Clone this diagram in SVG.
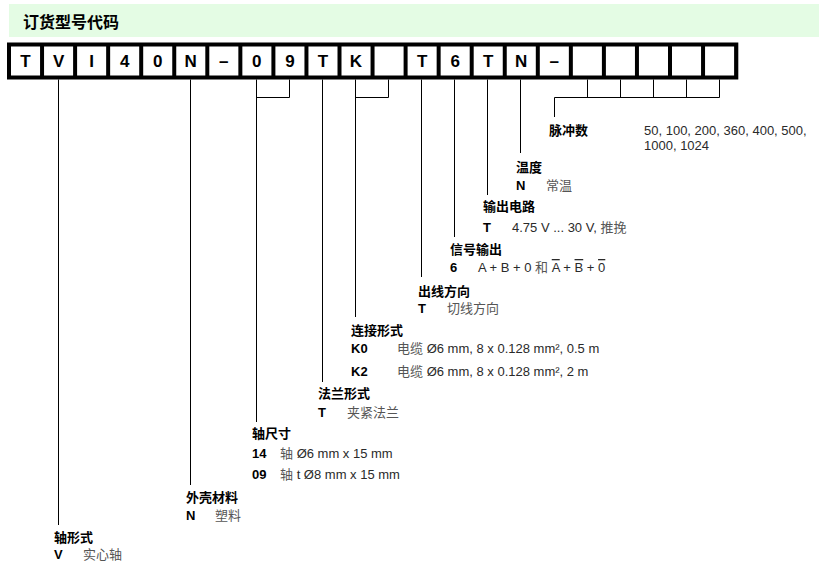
<svg xmlns="http://www.w3.org/2000/svg" width="823" height="567" viewBox="0 0 823 567">
<style>
text { font-family: "Liberation Sans", "Noto Sans CJK SC", sans-serif; }
.hd { font-size: 16px; font-weight: bold; fill: #000; }
.cell { fill: #fff; }
.ch { font-size: 17px; font-weight: bold; fill: #000; text-anchor: middle; }
.lbl { font-size: 13px; font-weight: bold; fill: #000; }
.code { font-size: 13px; font-weight: bold; fill: #000; }
.desc { font-size: 13px; fill: #2a2a2a; }
.zh { fill: #555; }
.cn line, .cn polyline { stroke: #000; stroke-width: 1; fill: none; }
</style>
<rect x="0" y="0" width="823" height="567" fill="#fff"/>
<g id="header">
  <rect x="9" y="4" width="810" height="33" fill="#e4fce4"/>
  <text class="hd" x="23" y="27.5">订货型号代码</text>
</g>
<g id="code-row">
  <rect x="7" y="42.5" width="731.3" height="37" fill="#000"/>
  <rect class="cell" x="11" y="46.5" width="29.05" height="29"/>
  <rect class="cell" x="44.05" y="46.5" width="29.05" height="29"/>
  <rect class="cell" x="77.1" y="46.5" width="29.05" height="29"/>
  <rect class="cell" x="110.15" y="46.5" width="29.05" height="29"/>
  <rect class="cell" x="143.2" y="46.5" width="29.05" height="29"/>
  <rect class="cell" x="176.25" y="46.5" width="29.05" height="29"/>
  <rect class="cell" x="209.3" y="46.5" width="29.05" height="29"/>
  <rect class="cell" x="242.35" y="46.5" width="29.05" height="29"/>
  <rect class="cell" x="275.4" y="46.5" width="29.05" height="29"/>
  <rect class="cell" x="308.45" y="46.5" width="29.05" height="29"/>
  <rect class="cell" x="341.5" y="46.5" width="29.05" height="29"/>
  <rect class="cell" x="374.55" y="46.5" width="29.05" height="29"/>
  <rect class="cell" x="407.6" y="46.5" width="29.05" height="29"/>
  <rect class="cell" x="440.65" y="46.5" width="29.05" height="29"/>
  <rect class="cell" x="473.7" y="46.5" width="29.05" height="29"/>
  <rect class="cell" x="506.75" y="46.5" width="29.05" height="29"/>
  <rect class="cell" x="539.8" y="46.5" width="29.05" height="29"/>
  <rect class="cell" x="572.85" y="46.5" width="29.05" height="29"/>
  <rect class="cell" x="605.9" y="46.5" width="29.05" height="29"/>
  <rect class="cell" x="638.95" y="46.5" width="29.05" height="29"/>
  <rect class="cell" x="672" y="46.5" width="29.05" height="29"/>
  <rect class="cell" x="705.05" y="46.5" width="29.05" height="29"/>
  <text class="ch" x="25.5" y="67">T</text>
  <text class="ch" x="58.55" y="67">V</text>
  <text class="ch" x="91.6" y="67">I</text>
  <text class="ch" x="124.65" y="67">4</text>
  <text class="ch" x="157.7" y="67">0</text>
  <text class="ch" x="190.75" y="67">N</text>
  <text class="ch" x="223.8" y="67">–</text>
  <text class="ch" x="256.85" y="67">0</text>
  <text class="ch" x="289.9" y="67">9</text>
  <text class="ch" x="322.95" y="67">T</text>
  <text class="ch" x="356" y="67">K</text>
  <text class="ch" x="422.1" y="67">T</text>
  <text class="ch" x="455.15" y="67">6</text>
  <text class="ch" x="488.2" y="67">T</text>
  <text class="ch" x="521.25" y="67">N</text>
  <text class="ch" x="554.3" y="67">–</text>
</g>
<g id="connectors" class="cn">
  <line x1="58.5" y1="79.5" x2="58.5" y2="525"/>
  <line x1="190.5" y1="79.5" x2="190.5" y2="485"/>
  <polyline points="289.5,79.5 289.5,97.5 256.5,97.5"/>
  <line x1="256.5" y1="79.5" x2="256.5" y2="422"/>
  <line x1="322.5" y1="79.5" x2="322.5" y2="382"/>
  <polyline points="388.5,79.5 388.5,97.5 355.5,97.5"/>
  <line x1="355.5" y1="79.5" x2="355.5" y2="317"/>
  <line x1="421.5" y1="79.5" x2="421.5" y2="277"/>
  <line x1="454.5" y1="79.5" x2="454.5" y2="237"/>
  <line x1="487.5" y1="79.5" x2="487.5" y2="195"/>
  <line x1="520.5" y1="79.5" x2="520.5" y2="153"/>
  <line x1="587.5" y1="79.5" x2="587.5" y2="97.5"/>
  <line x1="620.5" y1="79.5" x2="620.5" y2="97.5"/>
  <line x1="653.5" y1="79.5" x2="653.5" y2="97.5"/>
  <line x1="686.5" y1="79.5" x2="686.5" y2="97.5"/>
  <line x1="719.5" y1="79.5" x2="719.5" y2="97.5"/>
  <polyline points="719.5,97.5 554.5,97.5 554.5,117"/>
</g>
<g id="pulse-count">
  <text class="lbl" x="549" y="134.5">脉冲数</text>
  <text class="desc" x="644" y="135">50, 100, 200, 360, 400, 500,</text>
  <text class="desc" x="644" y="150">1000, 1024</text>
</g>
<g id="temperature">
  <text class="lbl" x="516" y="172">温度</text>
  <text class="code" x="516" y="190">N</text>
  <text class="desc" x="546" y="190"><tspan class="zh">常温</tspan></text>
</g>
<g id="output-circuit">
  <text class="lbl" x="483" y="211">输出电路</text>
  <text class="code" x="483" y="232">T</text>
  <text class="desc" x="512" y="232">4.75 V ... 30 V, <tspan class="zh">推挽</tspan></text>
</g>
<g id="signal-output">
  <text class="lbl" x="450" y="254">信号输出</text>
  <text class="code" x="450" y="272">6</text>
  <text class="desc" x="478" y="272">A + B + 0 <tspan class="zh">和</tspan> <tspan text-decoration="overline">A</tspan> + <tspan text-decoration="overline">B</tspan> + <tspan text-decoration="overline">0</tspan></text>
</g>
<g id="cable-direction">
  <text class="lbl" x="418" y="296">出线方向</text>
  <text class="code" x="418" y="313">T</text>
  <text class="desc" x="447" y="313"><tspan class="zh">切线方向</tspan></text>
</g>
<g id="connection">
  <text class="lbl" x="351" y="335">连接形式</text>
  <text class="code" x="351" y="353">K0</text>
  <text class="desc" x="397" y="353"><tspan class="zh">电缆</tspan> Ø6 mm, 8 x 0.128 mm², 0.5 m</text>
  <text class="code" x="351" y="376">K2</text>
  <text class="desc" x="397" y="376"><tspan class="zh">电缆</tspan> Ø6 mm, 8 x 0.128 mm², 2 m</text>
</g>
<g id="flange">
  <text class="lbl" x="318" y="398">法兰形式</text>
  <text class="code" x="318" y="417">T</text>
  <text class="desc" x="347" y="417"><tspan class="zh">夹紧法兰</tspan></text>
</g>
<g id="shaft-size">
  <text class="lbl" x="252" y="438">轴尺寸</text>
  <text class="code" x="252" y="458">14</text>
  <text class="desc" x="280" y="458"><tspan class="zh">轴</tspan> Ø6 mm x 15 mm</text>
  <text class="code" x="252" y="479">09</text>
  <text class="desc" x="280" y="479"><tspan class="zh">轴</tspan> t Ø8 mm x 15 mm</text>
</g>
<g id="housing">
  <text class="lbl" x="186" y="502">外壳材料</text>
  <text class="code" x="186" y="520">N</text>
  <text class="desc" x="215" y="520"><tspan class="zh">塑料</tspan></text>
</g>
<g id="shaft-type">
  <text class="lbl" x="54" y="542">轴形式</text>
  <text class="code" x="54" y="559">V</text>
  <text class="desc" x="83" y="559"><tspan class="zh">实心轴</tspan></text>
</g>
</svg>
